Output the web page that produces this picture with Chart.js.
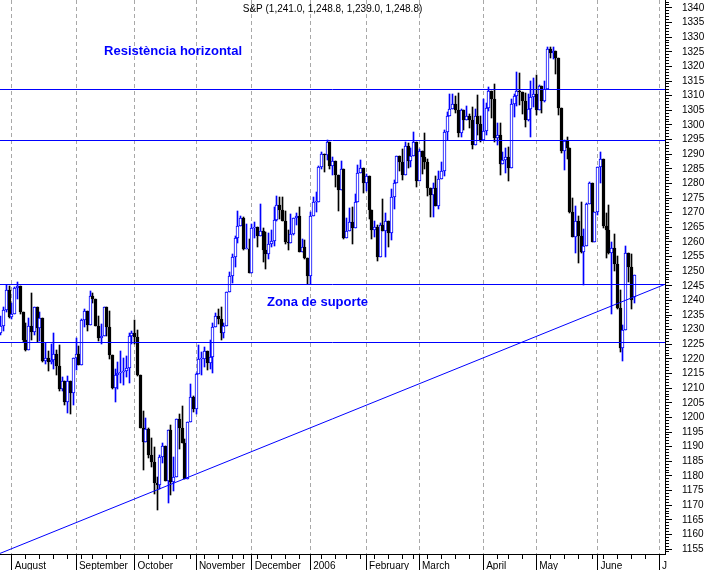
<!DOCTYPE html>
<html>
<head>
<meta charset="utf-8">
<script src="https://cdn.jsdelivr.net/npm/chart.js@4.4.1/dist/chart.umd.min.js"></script>
<style>
  html, body { margin: 0; padding: 0; background: #fff; }
  canvas { display: block; }
</style>
</head>
<body>
<canvas id="chart" width="707" height="570"></canvas>
<script>
// S&P 500 daily candles, 26 Jul 2005 .. 20 Jun 2006
// x = trading day number, 0 = 1 Aug 2005
const firstDay = -4;

const opens = [
  1229.0, 1231.2, 1236.8, 1243.7,
  1234.2, 1235.4, 1244.1, 1245.0, 1235.9, 1226.4, 1223.1, 1231.4, 1229.1, 1237.8, 1230.4, 1233.9,
  1219.3, 1220.2, 1219.0, 1219.7, 1221.7, 1217.6, 1209.6, 1212.4, 1205.1, 1212.3, 1208.4,
  1220.3, 1221.6, 1218.0, 1233.4, 1236.4, 1231.7, 1241.5, 1240.6, 1231.2, 1227.2, 1227.7, 1237.9,
  1231.0, 1221.3, 1210.2, 1214.6, 1215.3, 1215.6, 1215.7, 1216.9, 1227.7,
  1228.8, 1227.6, 1214.5, 1196.4, 1191.5, 1195.9, 1187.3, 1184.9, 1177.7, 1176.8, 1186.6, 1190.1,
  1178.1, 1195.8, 1177.8, 1179.6, 1199.4, 1196.5, 1191.4, 1178.9, 1198.4,
  1207.0, 1202.8, 1214.8, 1219.9, 1220.1, 1222.8, 1218.6, 1220.7, 1231.0, 1234.7, 1233.8, 1229.0,
  1231.2, 1242.8, 1248.3, 1254.9, 1261.2, 1265.6, 1268.3, 1257.5, 1257.5,
  1249.5, 1264.7, 1265.1, 1262.1, 1263.7, 1257.4, 1255.8, 1259.4, 1260.4, 1267.4, 1272.7, 1270.9,
  1267.3, 1259.9, 1259.6, 1262.8, 1268.1, 1268.7, 1256.5, 1258.2, 1254.4,
  1248.3, 1268.8, 1273.5, 1273.5, 1285.5, 1290.2, 1289.7, 1294.2, 1286.1, 1287.6, 1282.9, 1277.9,
  1285.0, 1261.5, 1263.8, 1266.9, 1264.7, 1273.8, 1283.7, 1285.2,
  1280.1, 1282.5, 1270.8, 1264.0, 1265.0, 1254.8, 1265.7, 1263.8, 1267.0, 1262.9, 1275.5, 1280.0,
  1289.4, 1287.2, 1283.0, 1292.7, 1287.8, 1289.4, 1294.1,
  1280.7, 1291.2, 1289.1, 1287.2, 1278.3, 1275.9, 1278.5, 1272.2, 1281.4, 1284.1, 1297.5, 1303.0,
  1305.3, 1307.3, 1305.1, 1297.2, 1305.0, 1301.7, 1303.0, 1301.6, 1293.2, 1302.9, 1300.3,
  1294.9, 1297.8, 1305.9, 1311.6, 1309.0, 1295.5, 1296.6, 1286.6, 1288.1, 1289.1, 1285.3, 1307.3,
  1309.9, 1311.5, 1311.3, 1308.1, 1301.7, 1305.4, 1309.7,
  1310.6, 1305.2, 1313.2, 1308.1, 1312.3, 1325.8, 1324.7, 1325.1, 1322.9, 1305.9, 1291.2, 1294.5,
  1292.1, 1270.3, 1261.8, 1267.0, 1262.1, 1256.6, 1258.6, 1272.9, 1280.2, 1259.9,
  1270.1, 1285.7, 1288.2, 1265.3, 1263.9, 1256.2, 1257.9, 1252.3, 1237.4, 1223.7, 1230.0, 1256.2,
  1251.5, 1241.0
];
const highs = [
  1234.6, 1237.6, 1245.2, 1245.0,
  1239.1, 1244.7, 1246.2, 1245.0, 1235.9, 1232.3, 1234.1, 1242.7, 1237.8, 1237.8, 1236.2, 1233.9,
  1225.5, 1222.6, 1225.1, 1228.9, 1223.0, 1224.9, 1213.7, 1212.4, 1214.3, 1212.3, 1220.4,
  1227.3, 1224.5, 1233.6, 1237.1, 1236.4, 1243.1, 1242.6, 1240.6, 1234.7, 1231.9, 1237.9, 1237.9,
  1236.5, 1221.5, 1216.6, 1218.8, 1222.6, 1220.2, 1220.9, 1228.9, 1229.6,
  1233.3, 1229.9, 1214.5, 1202.1, 1199.7, 1196.5, 1193.1, 1190.0, 1179.6, 1187.1, 1191.2, 1190.1,
  1195.8, 1197.3, 1186.5, 1199.4, 1201.3, 1204.0, 1192.7, 1198.4, 1211.4,
  1207.3, 1215.2, 1224.7, 1222.5, 1224.2, 1222.8, 1226.6, 1232.4, 1235.7, 1237.2, 1237.9, 1232.2,
  1242.9, 1249.6, 1255.9, 1261.9, 1270.6, 1268.8, 1268.4, 1266.2, 1260.9,
  1266.2, 1266.9, 1265.1, 1272.9, 1264.8, 1263.4, 1263.1, 1263.9, 1272.1, 1275.8, 1275.2, 1275.2,
  1270.5, 1263.9, 1269.4, 1268.2, 1269.8, 1271.8, 1261.1, 1260.6, 1254.4,
  1270.2, 1275.4, 1276.9, 1286.1, 1290.8, 1290.2, 1294.9, 1294.2, 1288.9, 1287.6, 1282.9, 1287.8,
  1285.0, 1268.2, 1271.5, 1271.9, 1276.4, 1286.4, 1287.9, 1285.2,
  1283.3, 1282.5, 1270.9, 1267.0, 1265.8, 1266.5, 1274.6, 1269.9, 1267.0, 1278.2, 1281.0, 1289.4,
  1289.4, 1291.9, 1294.2, 1293.8, 1292.1, 1297.6, 1294.1,
  1291.8, 1291.2, 1297.3, 1288.2, 1278.3, 1280.3, 1282.7, 1284.4, 1287.3, 1298.1, 1304.4, 1310.5,
  1310.6, 1310.0, 1310.9, 1305.6, 1305.0, 1306.5, 1303.7, 1306.2, 1305.6, 1310.2, 1303.0,
  1309.0, 1307.6, 1312.8, 1311.6, 1314.1, 1300.7, 1300.7, 1290.9, 1292.1, 1292.5, 1309.0, 1310.4,
  1318.2, 1317.7, 1311.3, 1310.8, 1310.4, 1315.0, 1316.0,
  1317.2, 1313.7, 1313.2, 1315.1, 1326.5, 1326.7, 1326.6, 1325.2, 1322.9, 1305.9, 1294.8, 1295.8,
  1292.1, 1274.9, 1272.2, 1268.8, 1273.7, 1264.5, 1273.3, 1280.5, 1280.2, 1270.1,
  1285.7, 1290.7, 1288.2, 1269.9, 1272.5, 1259.9, 1262.6, 1255.2, 1243.4, 1231.5, 1258.6, 1256.3,
  1255.9, 1248.8
];
const lows = [
  1228.2, 1229.4, 1236.1, 1233.9,
  1233.8, 1235.4, 1240.6, 1235.2, 1225.9, 1222.7, 1223.1, 1226.6, 1228.3, 1225.9, 1226.2, 1219.1,
  1218.1, 1215.9, 1218.2, 1216.5, 1214.4, 1209.1, 1208.9, 1204.2, 1201.5, 1201.1, 1204.4,
  1216.2, 1217.8, 1218.0, 1230.8, 1229.5, 1231.7, 1239.2, 1231.2, 1226.2, 1225.1, 1227.7, 1227.7,
  1220.1, 1209.6, 1205.3, 1209.8, 1211.8, 1211.1, 1213.7, 1211.6, 1225.0,
  1225.2, 1214.0, 1196.3, 1181.9, 1191.5, 1186.1, 1183.2, 1173.7, 1168.2, 1175.4, 1184.5, 1178.1,
  1170.6, 1173.3, 1174.9, 1179.6, 1189.3, 1191.4, 1178.9, 1178.9, 1198.4,
  1201.7, 1201.1, 1214.8, 1214.5, 1217.3, 1216.1, 1216.6, 1215.1, 1231.0, 1231.8, 1226.4, 1227.2,
  1231.2, 1242.8, 1246.1, 1251.4, 1259.5, 1265.6, 1257.2, 1257.5, 1249.4,
  1249.5, 1261.4, 1258.1, 1262.1, 1253.0, 1250.9, 1254.2, 1258.1, 1258.6, 1267.1, 1267.7, 1267.3,
  1259.3, 1257.2, 1259.6, 1262.5, 1265.9, 1256.5, 1256.5, 1254.2, 1245.7,
  1245.7, 1268.8, 1270.3, 1273.5, 1284.8, 1283.8, 1288.1, 1285.0, 1282.8, 1278.6, 1270.6, 1277.9,
  1260.9, 1261.5, 1263.8, 1259.4, 1264.7, 1273.8, 1283.5, 1276.6,
  1277.5, 1267.7, 1261.0, 1261.6, 1253.6, 1254.8, 1263.8, 1254.9, 1258.3, 1260.8, 1271.1, 1280.0,
  1284.2, 1281.3, 1283.0, 1285.1, 1285.6, 1289.4, 1278.7,
  1280.7, 1283.2, 1285.0, 1275.7, 1268.4, 1268.4, 1272.2, 1271.1, 1281.4, 1282.7, 1294.9, 1303.0,
  1305.3, 1303.9, 1295.8, 1295.8, 1298.1, 1301.7, 1299.0, 1291.8, 1293.2, 1296.7, 1294.2,
  1294.9, 1296.6, 1304.8, 1302.4, 1294.2, 1293.2, 1282.8, 1286.5, 1283.4, 1280.7, 1285.3, 1302.8,
  1306.4, 1306.8, 1303.8, 1299.2, 1301.4, 1295.8, 1306.2,
  1303.5, 1305.2, 1303.9, 1307.9, 1312.3, 1322.9, 1322.5, 1317.4, 1303.5, 1290.4, 1284.5, 1288.5,
  1269.9, 1261.8, 1256.3, 1252.9, 1256.2, 1245.3, 1258.6, 1272.9, 1259.9, 1259.9,
  1269.2, 1280.2, 1264.6, 1254.5, 1255.8, 1235.2, 1250.0, 1237.2, 1222.5, 1219.3, 1230.0, 1246.3,
  1237.2, 1239.0
];
const closes = [
  1231.2, 1236.8, 1243.7, 1234.2,
  1235.4, 1244.1, 1245.0, 1235.9, 1226.4, 1223.1, 1231.4, 1229.1, 1237.8, 1230.4, 1233.9, 1219.3,
  1220.2, 1219.0, 1219.7, 1221.7, 1217.6, 1209.6, 1212.4, 1205.1, 1212.3, 1208.4, 1220.3,
  1221.6, 1218.0, 1233.4, 1236.4, 1231.7, 1241.5, 1240.6, 1231.2, 1227.2, 1227.7, 1237.9, 1231.0,
  1221.3, 1210.2, 1214.6, 1215.3, 1215.6, 1215.7, 1216.9, 1227.7, 1228.8,
  1227.6, 1214.5, 1196.4, 1191.5, 1195.9, 1187.3, 1184.9, 1177.7, 1176.8, 1186.6, 1190.1, 1178.1,
  1195.8, 1177.8, 1179.6, 1199.4, 1196.5, 1191.4, 1178.9, 1198.4, 1207.0,
  1202.8, 1214.8, 1219.9, 1220.1, 1222.8, 1218.6, 1220.7, 1231.0, 1234.7, 1233.8, 1229.0, 1231.2,
  1242.8, 1248.3, 1254.9, 1261.2, 1265.6, 1268.3, 1257.5, 1257.5, 1249.5,
  1264.7, 1265.1, 1262.1, 1263.7, 1257.4, 1255.8, 1259.4, 1260.4, 1267.4, 1272.7, 1270.9, 1267.3,
  1259.9, 1259.6, 1262.8, 1268.1, 1268.7, 1256.5, 1258.2, 1254.4, 1248.3,
  1268.8, 1273.5, 1273.5, 1285.5, 1290.2, 1289.7, 1294.2, 1286.1, 1287.6, 1282.9, 1277.9, 1285.0,
  1261.5, 1263.8, 1266.9, 1264.7, 1273.8, 1283.7, 1285.2, 1280.1,
  1282.5, 1270.8, 1264.0, 1265.0, 1254.8, 1265.7, 1263.8, 1267.0, 1262.9, 1275.5, 1280.0, 1289.4,
  1287.2, 1283.0, 1292.7, 1287.8, 1289.4, 1294.1, 1280.7,
  1291.2, 1289.1, 1287.2, 1278.3, 1275.9, 1278.5, 1272.2, 1281.4, 1284.1, 1297.5, 1303.0, 1305.3,
  1307.3, 1305.1, 1297.2, 1305.0, 1301.7, 1303.0, 1301.6, 1293.2, 1302.9, 1300.3, 1294.9,
  1297.8, 1305.9, 1311.6, 1309.0, 1295.5, 1296.6, 1286.6, 1288.1, 1289.1, 1285.3, 1307.3, 1309.9,
  1311.5, 1311.3, 1308.1, 1301.7, 1305.4, 1309.7, 1310.6,
  1305.2, 1313.2, 1308.1, 1312.3, 1325.8, 1324.7, 1325.1, 1322.9, 1305.9, 1291.2, 1294.5, 1292.1,
  1270.3, 1261.8, 1267.0, 1262.1, 1256.6, 1258.6, 1272.9, 1280.2, 1259.9, 1270.1,
  1285.7, 1288.2, 1265.3, 1263.9, 1256.2, 1257.9, 1252.3, 1237.4, 1223.7, 1230.0, 1256.2, 1251.5,
  1240.1, 1248.8
];

// axis labels
const monthTicks = [0, 23, 44, 66, 86, 107, 127, 146, 169, 188, 210, 232];
const monthNames = ['August', 'September', 'October', 'November', 'December', '2006',
  'February', 'March', 'April', 'May', 'June', 'J'];
const weekTicks = [5, 10, 15, 20, 25, 29, 34, 39, 49, 54, 59, 64, 69, 74, 79, 83, 88, 93, 98, 103,
  111, 116, 120, 125, 130, 135, 140, 144, 149, 154, 159, 164, 174, 178, 183, 193, 198, 203, 208,
  212, 217, 222, 227];
const yTickValues = [1155, 1160, 1165, 1170, 1175, 1180, 1185, 1190, 1195, 1200, 1205, 1210,
  1215, 1220, 1225, 1230, 1235, 1240, 1245, 1250, 1255, 1260, 1265, 1270, 1275, 1280, 1285,
  1290, 1295, 1300, 1305, 1310, 1315, 1320, 1325, 1330, 1335, 1340];

// drawn levels
const levels = [1312, 1294.5, 1245.5, 1225.5];
const trendFrom = { x: -4.3, y: 1153.5 };
const trendTo = { x: 234.1, y: 1245.5 };

const titleText = 'S&P (1,241.0, 1,248.8, 1,239.0, 1,248.8)';
const notes = [
  { text: 'Resistència horizontal', x: 33, y: 1325 },
  { text: 'Zona de suporte', x: 91.4, y: 1239.3 }
];

const xMin = -4.3, xMax = 234.1;
const yMin = 1153.3, yMax = 1342.7;
const BLUE = '#0000ff';
const FONT = "'Liberation Sans', Arial, sans-serif";

const days = closes.map((c, i) => firstDay + i);
const up = closes.map((c, i) => c >= opens[i]);

// snap bars to whole pixels so candles look crisp
const snapPlugin = {
  id: 'snap',
  beforeDatasetsDraw(chart) {
    chart.data.datasets.forEach((ds, di) => {
      const meta = chart.getDatasetMeta(di);
      if (meta.type === 'bar') {
        meta.data.forEach(el => {
          el.x = Math.round(el.x - 0.5) + 0.5;
          el.y = Math.round(el.y);
          el.base = Math.round(el.base);
        });
      } else if (ds.flat) {
        meta.data.forEach(el => { el.y = Math.round(el.y - 0.5) + 0.5; });
      }
    });
  }
};

const decorPlugin = {
  id: 'decor',
  afterDraw(chart) {
    const { ctx, chartArea, scales: { x, y } } = chart;
    ctx.save();
    ctx.strokeStyle = '#000';
    ctx.lineWidth = 1;
    ctx.beginPath();
    for (let v = Math.ceil(y.min); v <= y.max; v++) {
      if (v % 5 === 0) continue;
      const py = Math.round(y.getPixelForValue(v) - 0.5) + 0.5;
      ctx.moveTo(chartArea.right, py);
      ctx.lineTo(chartArea.right + 4, py);
    }
    weekTicks.forEach(d => {
      const px = Math.round(x.getPixelForValue(d) - 0.5) + 0.5;
      ctx.moveTo(px, chartArea.bottom);
      ctx.lineTo(px, chartArea.bottom + 5);
    });
    ctx.stroke();

    ctx.textBaseline = 'middle';
    ctx.fillStyle = '#000';
    ctx.font = '10px ' + FONT;
    ctx.textAlign = 'center';
    ctx.fillText(titleText, (chartArea.left + chartArea.right) / 2, 9);

    ctx.fillStyle = BLUE;
    ctx.font = 'bold 13px ' + FONT;
    ctx.textAlign = 'left';
    notes.forEach(n => ctx.fillText(n.text, x.getPixelForValue(n.x), y.getPixelForValue(n.y)));
    ctx.restore();
  }
};

const lineSet = (pts, flat) => ({
  type: 'line',
  data: pts,
  borderColor: BLUE,
  borderWidth: 1,
  pointRadius: 0,
  fill: false,
  order: 0,
  flat: flat
});

new Chart(document.getElementById('chart'), {
  type: 'bar',
  data: {
    datasets: [
      {
        data: days.map((d, i) => ({ x: d, y: [lows[i], highs[i]] })),
        backgroundColor: up.map(u => u ? BLUE : '#000'),
        borderWidth: 0,
        barThickness: 1,
        grouped: false,
        order: 3
      },
      {
        data: days.map((d, i) => ({ x: d, y: [opens[i], closes[i]] })),
        backgroundColor: up.map(u => u ? '#fff' : '#000'),
        borderColor: up.map(u => u ? BLUE : '#000'),
        borderWidth: 1,
        borderSkipped: false,
        barThickness: 3,
        minBarLength: 1,
        grouped: false,
        order: 2
      },
      ...levels.map(v => lineSet([{ x: xMin, y: v }, { x: xMax, y: v }], true)),
      lineSet([trendFrom, trendTo], false)
    ]
  },
  options: {
    responsive: false,
    devicePixelRatio: 1,
    animation: false,
    layout: { padding: 0 },
    plugins: { legend: { display: false }, tooltip: { enabled: false } },
    scales: {
      x: {
        type: 'linear',
        min: xMin,
        max: xMax,
        offset: false,
        afterBuildTicks: s => { s.ticks = monthTicks.map(v => ({ value: v })); },
        afterFit: s => {
          s.height = 16;
          s.paddingLeft = 0; s.paddingRight = 0;
        },
        grid: { offset: false, color: '#a8a8a8', tickColor: '#000', tickLength: 16 },
        border: { color: '#000', dash: [4, 3] },
        ticks: {
          color: '#000',
          font: { family: FONT, size: 10 },
          align: 'start',
          autoSkip: false,
          maxRotation: 0,
          padding: -10,
          callback: v => ' ' + monthNames[monthTicks.indexOf(v)]
        }
      },
      y: {
        position: 'right',
        min: yMin,
        max: yMax,
        afterBuildTicks: s => { s.ticks = yTickValues.map(v => ({ value: v })); },
        afterFit: s => {
          s.width = 42;
          s.paddingTop = 0; s.paddingBottom = 0;
        },
        grid: { drawOnChartArea: false, tickLength: 7, tickColor: '#000' },
        border: { color: '#000' },
        ticks: {
          color: '#000',
          font: { family: FONT, size: 10 },
          padding: 10,
          autoSkip: false,
          callback: v => String(v)
        }
      }
    }
  },
  plugins: [snapPlugin, decorPlugin]
});
</script>
</body>
</html>
